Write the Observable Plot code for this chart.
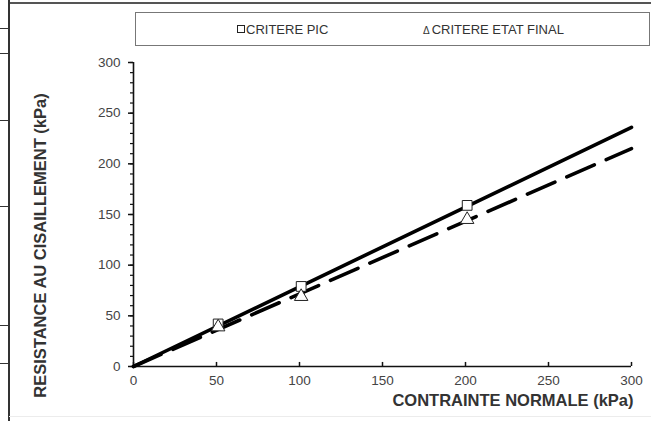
<!DOCTYPE html>
<html>
<head>
<meta charset="utf-8">
<script src="https://cdn.jsdelivr.net/npm/d3@7"></script>
<script src="https://cdn.jsdelivr.net/npm/@observablehq/plot@0.6"></script>
<style>
  html, body { margin: 0; padding: 0; background: #fff; }
  #wrap { position: relative; width: 651px; height: 421px; overflow: hidden; font-family: "Liberation Sans", Arial, sans-serif; }
  #wrap svg { position: absolute; left: 0; top: 0; }
  .legend { position: absolute; left: 135px; top: 12px; width: 513px; height: 32px; border: 1px solid #777; background: #fff; }
  .legend .item { position: absolute; top: 9px; font-size: 13px; color: #333; white-space: nowrap; }
  .sq { display: inline-block; width: 6px; height: 6px; border: 1.3px solid #222; margin-right: 1px; vertical-align: 1px; }
  .topline { position: absolute; left: 8px; right: 0; top: 2px; height: 2px; background: #555; }
  .leftline { position: absolute; left: 8px; top: 0; width: 1.5px; height: 421px; background: #333; }
  .lt { position: absolute; left: 0; width: 8px; height: 1.3px; background: #333; }
  .bottomline { position: absolute; left: 9px; right: 0; top: 416px; height: 1px; background: #ececec; }
</style>
</head>
<body>
<div id="wrap"></div>
<script>
// Data
const contrainte = [51, 101, 201];            // kPa normal stress
const resistancePic = [42, 79, 159];          // peak criterion points
const resistanceFinal = [39, 69, 145];        // final-state criterion points
const fitX = [0, 300];
const fitPic = [0, 236];                      // fitted line (peak)
const fitFinal = [0, 215];                    // fitted line (final state)
const xTicks = [0, 50, 100, 150, 200, 250, 300];
const yTicks = [0, 50, 100, 150, 200, 250, 300];
const yMinorTicks = d3.range(0, 301, 10);
const yTitle = "RESISTANCE AU CISAILLEMENT (kPa)";
const xTitle = "CONTRAINTE NORMALE (kPa)";
const legendLabels = ["CRITERE PIC", "CRITERE ETAT FINAL"];

const pic = contrainte.map((x, i) => ({x, y: resistancePic[i]}));
const fin = contrainte.map((x, i) => ({x, y: resistanceFinal[i]}));
const linePic = fitX.map((x, i) => ({x, y: fitPic[i]}));
const lineFin = fitX.map((x, i) => ({x, y: fitFinal[i]}));

const chart = Plot.plot({
  width: 651,
  height: 421,
  marginLeft: 133,
  marginRight: 20,
  marginTop: 62,
  marginBottom: 55,
  style: {fontFamily: "'Liberation Sans', Arial, sans-serif", fontSize: "12px", color: "#222", background: "transparent"},
  x: {domain: [0, 300]},
  y: {domain: [0, 300]},
  marks: [
    Plot.axisY({ticks: yMinorTicks, tickSize: 3, text: null, label: null, strokeWidth: 1.2, stroke: "#111"}),
    Plot.axisY({ticks: yTicks, tickSize: 5, tickPadding: 8, label: null, fontSize: 13.5, fill: "#444", stroke: "#111", strokeWidth: 1.5}),
    Plot.axisX({ticks: xTicks, tickSize: 0, tickPadding: 9, label: null, fontSize: 13.5, fill: "#444"}),
    Plot.ruleX(xTicks, {x: d => d, y1: 0, y2: 4, stroke: "#111", strokeWidth: 1.5}),
    Plot.ruleX([0], {stroke: "#111", strokeWidth: 1.6}),
    Plot.ruleY([0], {stroke: "#111", strokeWidth: 1.6}),
    Plot.line(lineFin, {x: "x", y: "y", stroke: "#000", strokeWidth: 3.6, strokeDasharray: "30,13"}),
    Plot.line(linePic, {x: "x", y: "y", stroke: "#000", strokeWidth: 3.6}),
    Plot.dot(pic, {x: "x", y: "y", symbol: "square", r: 5.5, fill: "#fff", stroke: "#222", strokeWidth: 1}),
    Plot.dot(fin, {x: "x", y: "y", symbol: "triangle", r: 5, fill: "#fff", stroke: "#222", strokeWidth: 1}),
    Plot.text([yTitle], {frameAnchor: "left", textAnchor: "middle", dx: -93, dy: 31, rotate: -90, fontWeight: "bold", fontSize: 16.5, fill: "#333"}),
    Plot.text([xTitle], {frameAnchor: "bottom-right", textAnchor: "end", dx: 2, dy: 39, fontWeight: "bold", fontSize: 16.5, fill: "#333"})
  ]
});

const wrap = document.getElementById("wrap");
wrap.appendChild(chart);

const deco = document.createElement("div");
deco.innerHTML = `
  <div class="topline"></div>
  <div class="leftline"></div>
  ${[28, 53, 120, 206, 325, 363].map(y => `<div class="lt" style="top:${y}px"></div>`).join("")}
  <div class="bottomline"></div>
  <div class="legend">
    <div class="item" style="left:101px"><span class="sq"></span>${legendLabels[0]}</div>
    <div class="item" style="left:287px"><span style="font-size:10px;margin-right:2px">&#916;</span>${legendLabels[1]}</div>
  </div>`;
while (deco.firstChild) wrap.appendChild(deco.firstChild);
</script>
</body>
</html>
